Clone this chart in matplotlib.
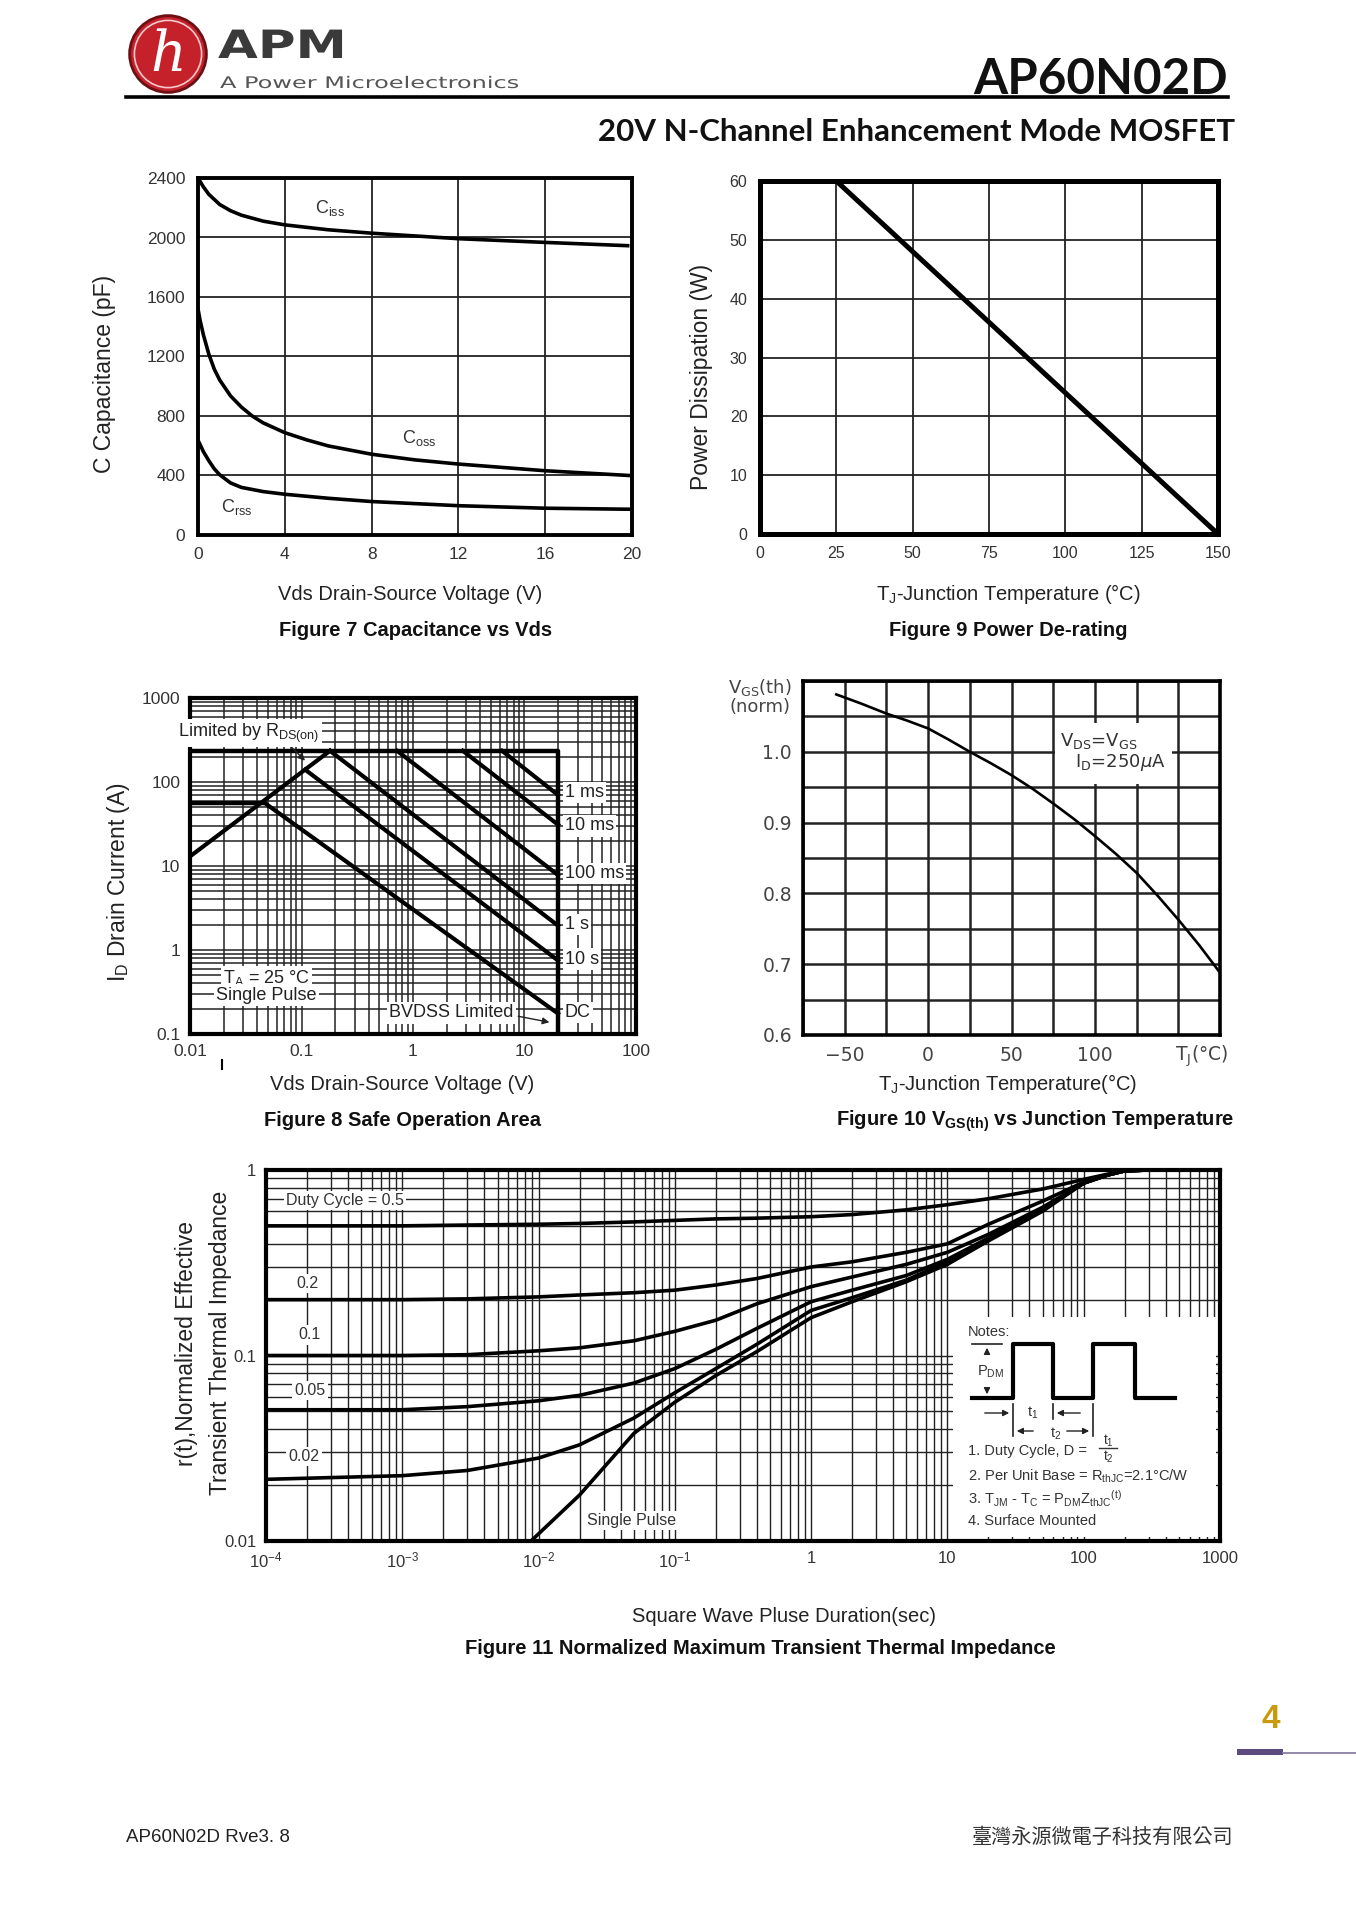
import numpy as np
import matplotlib
matplotlib.use('Agg')
import matplotlib.pyplot as plt
from matplotlib.patches import Circle, Rectangle, PathPatch, FancyArrowPatch
from matplotlib.lines import Line2D
from matplotlib.textpath import TextPath
from matplotlib.font_manager import FontProperties
from matplotlib.transforms import Affine2D
from matplotlib.ticker import LogLocator, NullFormatter

plt.rcParams['font.family'] = ['Liberation Sans', 'DejaVu Sans']

# ---- Figure 7: capacitance vs Vds ----
ciss_v = [0, 0.25, 0.5, 1, 1.5, 2, 3, 4, 6, 8, 12, 16, 19.8]
ciss = [2400, 2340, 2290, 2222, 2180, 2150, 2110, 2085, 2052, 2029, 1992, 1967, 1945]
coss_v = [0, 0.1, 0.25, 0.5, 0.75, 1, 1.5, 2, 2.5, 3, 4, 5, 6, 8, 10, 12, 16, 20]
coss = [1520, 1440, 1345, 1215, 1115, 1042, 935, 860, 800, 754, 688, 640, 599, 543, 505, 477, 432, 399]
crss_v = [0, 0.25, 0.5, 0.75, 1, 1.5, 2, 3, 4, 6, 8, 12, 16, 20]
crss = [637, 560, 499, 445, 405, 350, 320, 292, 274, 247, 225, 197, 180, 173]

# ---- Figure 9: power de-rating ----
pd_tj = [25, 150]
pd_w = [60, 0]

# ---- Figure 8: safe operating area ----
rds_v = [0.01, 0.18]
rds_i = [13, 235]
lim_v = [0.01, 20, 20]
lim_i = [235, 235, 0.1]
soa_lines = {
    '1 ms':   ([6.3, 20], [235, 70]),
    '10 ms':  ([2.8, 20], [235, 31]),
    '100 ms': ([0.72, 20], [235, 7.8]),
    '1 s':    ([0.18, 20], [235, 1.95]),
    '10 s':   ([0.108, 20], [140, 0.75]),
    'DC':     ([0.01, 0.047, 20], [56, 56, 0.175]),
}
soa_label_y = {'1 ms': 75, '10 ms': 30, '100 ms': 8.2, '1 s': 2.0, '10 s': 0.78, 'DC': 0.18}

# ---- Figure 10: VGS(th) vs Tj ----
vth_t = [-55, -40, -25, -12.5, 0, 12.5, 25, 37.5, 50, 62.5, 75, 87.5, 100, 112.5, 125, 137.5, 150, 162.5, 175]
vth_n = [1.081, 1.068, 1.054, 1.044, 1.033, 1.017, 1.0, 0.984, 0.967, 0.948, 0.927, 0.905, 0.881,
         0.856, 0.829, 0.797, 0.763, 0.727, 0.688]

# ---- Figure 11: transient thermal impedance ----
zt_t = [1e-4, 1e-3, 3e-3, 1e-2, 2e-2, 5e-2, 0.1, 0.2, 0.4, 1, 2, 5, 10, 20, 50, 100, 150, 200, 300]
zth = {
    '0.5':  [0.50, 0.50, 0.505, 0.51, 0.515, 0.525, 0.535, 0.545, 0.55, 0.56, 0.575, 0.61, 0.65,
             0.70, 0.79, 0.89, 0.95, 0.99, 1.0],
    '0.2':  [0.20, 0.20, 0.202, 0.207, 0.212, 0.218, 0.225, 0.24, 0.26, 0.30, 0.32, 0.36, 0.40,
             0.51, 0.68, 0.86, 0.94, 0.99, 1.0],
    '0.1':  [0.10, 0.10, 0.101, 0.106, 0.110, 0.120, 0.135, 0.155, 0.19, 0.235, 0.265, 0.31, 0.36,
             0.45, 0.63, 0.85, 0.94, 0.99, 1.0],
    '0.05': [0.051, 0.051, 0.053, 0.057, 0.061, 0.071, 0.085, 0.108, 0.14, 0.195, 0.225, 0.27, 0.33,
             0.43, 0.62, 0.85, 0.94, 0.99, 1.0],
    '0.02': [0.0215, 0.0225, 0.024, 0.028, 0.033, 0.046, 0.063, 0.085, 0.115, 0.175, 0.205, 0.255,
             0.32, 0.42, 0.61, 0.85, 0.94, 0.99, 1.0],
}
sp_t = [0.0088, 0.02, 0.05, 0.1, 0.2, 0.4, 1, 2, 5, 10, 20, 50, 100, 150, 200, 300]
sp_z = [0.01, 0.0177, 0.038, 0.056, 0.078, 0.105, 0.16, 0.195, 0.25, 0.31, 0.415, 0.60, 0.85,
        0.94, 0.99, 1.0]
zth_labels = [('Duty Cycle = 0.5', 1.4e-4, 0.685, 'left'), ('0.2', 2.0e-4, 0.245, 'center'),
              ('0.1', 2.1e-4, 0.129, 'center'), ('0.05', 2.1e-4, 0.065, 'center'),
              ('0.02', 1.9e-4, 0.0285, 'center'), ('Single Pulse', 0.048, 0.0129, 'center')]

W, H = 1356, 1920
fig = plt.figure(figsize=(W / 100, H / 100), dpi=100)
fig.patch.set_facecolor('white')


def rect(l, t, r, b):
    return [l / W, 1 - b / H, (r - l) / W, (b - t) / H]


def ftext(x, y, s, **kw):
    kw.setdefault('ha', 'center')
    kw.setdefault('va', 'center')
    return fig.text(x / W, 1 - y / H, s, **kw)


def fline(xs, ys, **kw):
    fig.add_artist(Line2D([x / W for x in xs], [1 - y / H for y in ys], **kw))


def farrow(x0, y0, x1, y1):
    fig.add_artist(FancyArrowPatch(
        (x0 / W, 1 - y0 / H), (x1 / W, 1 - y1 / H), transform=fig.transFigure,
        arrowstyle='-|>', mutation_scale=9, lw=1.0, color='#222'))


def frame(ax, lw):
    for s in ax.spines.values():
        s.set_linewidth(lw)
        s.set_color('black')
        s.set_zorder(5)


white_box = dict(facecolor='white', edgecolor='none', pad=1.5)

# ================= header =================
lax = fig.add_axes(rect(128, 14, 208, 94))
lax.set_xlim(-1, 1)
lax.set_ylim(-1, 1)
lax.set_aspect('equal')
lax.axis('off')
lax.add_patch(Circle((0, 0), 0.96, fc='#c4212b', ec='#6e0f14', lw=2))
lax.add_patch(Circle((0, 0), 0.84, fill=False, ec='#f3c9cb', lw=1.2))
lax.text(0, -0.05, 'h', color='white', fontsize=40, style='italic', family='DejaVu Serif',
         ha='center', va='center')

# page overlay in pixel units for stretched logo lettering
pax = fig.add_axes([0, 0, 1, 1])
pax.set_xlim(0, W)
pax.set_ylim(H, 0)
pax.axis('off')
pax.patch.set_alpha(0)
apm = TextPath((0, 0), 'APM', size=39, prop=FontProperties(family='DejaVu Sans', weight='bold'))
pax.add_patch(PathPatch(apm, transform=Affine2D().scale(1.32, -1).translate(218, 58) + pax.transData,
                        fc='#3a3a3a', ec='none'))
sub = TextPath((0, 0), 'A Power Microelectronics', size=16, prop=FontProperties(family='DejaVu Sans'))
pax.add_patch(PathPatch(sub, transform=Affine2D().scale(1.5, -1).translate(220, 88) + pax.transData,
                        fc='#555555', ec='none'))

fline([126, 1228], [97, 97], color='black', lw=2.6)
ftext(1228, 94, 'AP60N02D', ha='right', va='baseline', fontsize=35.5, fontweight='bold',
      family=['Lato', 'DejaVu Sans'], color='#111')
ftext(1235, 141, '20V N-Channel Enhancement Mode MOSFET', ha='right', va='baseline',
      fontsize=22.5, fontweight='bold', family=['Lato', 'DejaVu Sans'], color='#111')

# ================= Figure 7 =================
ax7 = fig.add_axes(rect(198, 178, 632, 535))
ax7.plot(ciss_v, ciss, color='black', lw=2.6)
ax7.plot(coss_v, coss, color='black', lw=2.6)
ax7.plot(crss_v, crss, color='black', lw=2.6)
ax7.set_xlim(0, 20)
ax7.set_ylim(0, 2400)
ax7.set_xticks(range(0, 21, 4))
ax7.set_yticks(range(0, 2401, 400))
ax7.grid(True, color='#222', lw=1.3)
ax7.tick_params(length=0, labelsize=12.5, pad=9, colors='#333')
frame(ax7, 2.8)
ax7.text(6.1, 2198, r'$\mathregular{C_{iss}}$', fontsize=13, ha='center', va='center', color='#333')
ax7.text(10.2, 650, r'$\mathregular{C_{oss}}$', fontsize=13, ha='center', va='center', color='#333')
ax7.text(1.8, 190, r'$\mathregular{C_{rss}}$', fontsize=13, ha='center', va='center', color='#333')
ftext(104, 374, 'C Capacitance (pF)', rotation=90, fontsize=16.5, color='#222')
ftext(410, 594, 'Vds Drain-Source Voltage (V)', fontsize=14.5, color='#222')
ftext(416, 631, 'Figure 7 Capacitance vs Vds', fontsize=14.5, fontweight='bold', color='#111')

# ================= Figure 9 =================
ax9 = fig.add_axes(rect(760, 181, 1218, 534))
ax9.plot(pd_tj, pd_w, color='black', lw=3.6)
ax9.set_xlim(0, 150)
ax9.set_ylim(0, 60)
ax9.set_xticks(range(0, 151, 25))
ax9.set_yticks(range(0, 61, 10))
ax9.grid(True, color='#222', lw=1.3)
ax9.tick_params(length=0, labelsize=11.5, pad=9, colors='#333')
frame(ax9, 3.6)
ftext(701, 377, 'Power Dissipation (W)', rotation=90, fontsize=16.5, color='#222')
ftext(1008, 594, r'T$\mathregular{_J}$-Junction Temperature (°C)', fontsize=14.5, color='#222')
ftext(1008, 631, 'Figure 9 Power De-rating', fontsize=14.5, fontweight='bold', color='#111')

# ================= Figure 8 =================
ax8 = fig.add_axes(rect(190, 698, 636, 1034))
ax8.set_xscale('log')
ax8.set_yscale('log')
ax8.set_xlim(0.01, 100)
ax8.set_ylim(0.1, 1000)
ax8.plot(rds_v, rds_i, color='black', lw=3)
ax8.plot(lim_v, lim_i, color='black', lw=3.2)
for name, (v, i) in soa_lines.items():
    ax8.plot(v, i, color='black', lw=3)
    ax8.text(23, soa_label_y[name], name, fontsize=13, ha='left', va='center', color='#222',
             bbox=white_box, zorder=6)
ax8.xaxis.set_major_locator(LogLocator(base=10, numticks=10))
ax8.xaxis.set_minor_locator(LogLocator(base=10, subs=np.arange(2, 10), numticks=10))
ax8.yaxis.set_major_locator(LogLocator(base=10, numticks=10))
ax8.yaxis.set_minor_locator(LogLocator(base=10, subs=np.arange(2, 10), numticks=10))
ax8.set_xticks([0.01, 0.1, 1, 10, 100], ['0.01', '0.1', '1', '10', '100'])
ax8.set_yticks([0.1, 1, 10, 100, 1000], ['0.1', '1', '10', '100', '1000'])
ax8.xaxis.set_minor_formatter(NullFormatter())
ax8.yaxis.set_minor_formatter(NullFormatter())
ax8.grid(True, which='both', color='#222', lw=1.1)
ax8.tick_params(which='both', length=0, labelsize=12.5, pad=7, colors='#333')
frame(ax8, 3)
ax8.text(0.0485, 0.46, r'T$\mathregular{_A}$ = 25 °C', fontsize=13, ha='center', va='center',
         color='#222', bbox=white_box, zorder=6)
ax8.text(0.0485, 0.29, 'Single Pulse', fontsize=13, ha='center', va='center',
         color='#222', bbox=white_box, zorder=6)
ax8.text(2.2, 0.178, 'BVDSS Limited', fontsize=13, ha='center', va='center',
         color='#222', bbox=white_box, zorder=6)
ax8.annotate('', xy=(17.7, 0.136), xytext=(8.3, 0.165),
             arrowprops=dict(arrowstyle='-|>', color='#222', lw=1.0, mutation_scale=10), zorder=6)
ax8.annotate('', xy=(0.112, 170), xytext=(0.078, 275),
             arrowprops=dict(arrowstyle='-|>', color='#222', lw=1.0, mutation_scale=10), zorder=6)
ftext(178, 733, r'Limited by $\mathregular{R_{DS(on)}}$', ha='left', fontsize=13, color='#222',
      bbox=dict(facecolor='white', edgecolor='none', pad=2))
fline([222, 222], [1060, 1069], color='black', lw=1.5)
ftext(119, 882, r'$\mathregular{I_D}$ Drain Current (A)', rotation=90, fontsize=16.5, color='#222')
ftext(402, 1084, 'Vds Drain-Source Voltage (V)', fontsize=14.5, color='#222')
ftext(402, 1121, 'Figure 8 Safe Operation Area', fontsize=14.5, fontweight='bold', color='#111')

# ================= Figure 10 =================
dj = ['DejaVu Sans']
ax10 = fig.add_axes(rect(803, 681, 1220, 1035))
ax10.plot(vth_t, vth_n, color='black', lw=1.9, zorder=4)
ax10.set_xlim(-75, 175)
ax10.set_ylim(0.6, 1.1)
xt = [-75, -50, -25, 0, 25, 50, 75, 100, 125, 150, 175]
xl = ['', '\u221250', '', '0', '', '50', '', '100', '', '', '']
yt = [0.6, 0.65, 0.7, 0.75, 0.8, 0.85, 0.9, 0.95, 1.0, 1.05, 1.1]
yl = ['0.6', '', '0.7', '', '0.8', '', '0.9', '', '1.0', '', '']
ax10.set_xticks(xt, xl)
ax10.set_yticks(yt, yl)
for lab in ax10.get_xticklabels() + ax10.get_yticklabels():
    lab.set_family(dj)
ax10.grid(True, color='#222', lw=1.8)
ax10.tick_params(length=0, labelsize=13.5, pad=8, colors='#444')
frame(ax10, 2.6)
ax10.add_patch(Rectangle((76, 0.955), 70, 0.085, fc='white', ec='none', zorder=3))
ax10.text(78.8, 1.015, r'$\mathregular{V_{DS}}$=$\mathregular{V_{GS}}$', fontsize=13,
          family=dj, ha='left', va='center', color='#333', zorder=4)
ax10.text(88, 0.985, r'$\mathregular{I_D}$=250$\mu$A', fontsize=13,
          family=dj, ha='left', va='center', color='#333', zorder=4)
ax10.text(164, -0.06, r'T$\mathregular{_J}$(°C)', transform=ax10.get_xaxis_transform(),
          fontsize=13.5, family=dj, ha='center', va='center', color='#444')
ftext(760, 688, r'V$\mathregular{_{GS}}$(th)', fontsize=13, family=dj, color='#444')
ftext(760, 707, '(norm)', fontsize=13, family=dj, color='#444')
ftext(1008, 1084, r'T$\mathregular{_J}$-Junction Temperature(°C)', fontsize=14.5, color='#222')
ftext(1035, 1121, r'Figure 10 V$\mathregular{_{GS(th)}}$ vs Junction Temperature', fontsize=14.5,
      fontweight='bold', color='#111')

# ================= Figure 11 =================
ax11 = fig.add_axes(rect(266, 1170, 1220, 1541))
ax11.set_xscale('log')
ax11.set_yscale('log')
ax11.set_xlim(1e-4, 1000)
ax11.set_ylim(0.01, 1)
for d, z in zth.items():
    ax11.plot(zt_t, z, color='black', lw=2.6, zorder=4)
ax11.plot(sp_t, sp_z, color='black', lw=2.6, zorder=4)
ax11.xaxis.set_major_locator(LogLocator(base=10, numticks=12))
ax11.xaxis.set_minor_locator(LogLocator(base=10, subs=np.arange(2, 10), numticks=12))
ax11.yaxis.set_minor_locator(LogLocator(base=10, subs=np.arange(2, 10), numticks=12))
xticks11 = [1e-4, 1e-3, 1e-2, 1e-1, 1, 10, 100, 1000]
xlabels11 = [r'$\mathregular{10^{-4}}$', r'$\mathregular{10^{-3}}$', r'$\mathregular{10^{-2}}$',
             r'$\mathregular{10^{-1}}$', '1', '10', '100', '1000']
ax11.set_xticks(xticks11, xlabels11)
ax11.set_yticks([0.01, 0.1, 1], ['0.01', '0.1', '1'])
ax11.xaxis.set_minor_formatter(NullFormatter())
ax11.yaxis.set_minor_formatter(NullFormatter())
ax11.grid(True, which='both', color='#222', lw=1.0)
ax11.tick_params(which='both', length=0, labelsize=12, pad=7, colors='#333')
frame(ax11, 3)
for txt, tx, ty, ha in zth_labels:
    ax11.text(tx, ty, txt, fontsize=11.5, ha=ha, va='center', color='#333',
              bbox=white_box, zorder=5)
ax11.add_patch(Rectangle((0.72, 0.012), 0.276, 0.592, transform=ax11.transAxes,
                         fc='white', ec='none', zorder=3))

# notes block
nk = dict(fontsize=10.5, color='#333', ha='left', zorder=6)
ftext(968, 1332, 'Notes:', **nk)
fline([972, 1013, 1013, 1053, 1053, 1093, 1093, 1135, 1135, 1175],
      [1398, 1398, 1344, 1344, 1398, 1398, 1344, 1344, 1398, 1398], color='black', lw=3)
fline([972, 1002], [1344, 1344], color='#222', lw=1.2)
farrow(987, 1356, 987, 1345)
farrow(987, 1386, 987, 1397)
ftext(977, 1372, r'$\mathregular{P_{DM}}$', **nk)
fline([1013, 1013], [1404, 1436], color='#222', lw=1.2)
fline([1053, 1053], [1404, 1419], color='#222', lw=1.2)
fline([1093, 1093], [1404, 1436], color='#222', lw=1.2)
farrow(982, 1413, 1012, 1413)
farrow(1083, 1413, 1054, 1413)
farrow(1036, 1431, 1014, 1431)
farrow(1064, 1431, 1092, 1431)
ftext(1033, 1413, r'$\mathregular{t_1}$', fontsize=10.5, color='#333', zorder=6)
ftext(1056, 1434, r'$\mathregular{t_2}$', fontsize=10.5, color='#333', zorder=6)
ftext(968, 1451, '1. Duty Cycle, D =', **nk)
ftext(1108, 1441, r'$\mathregular{t_1}$', fontsize=10, color='#333')
fline([1099, 1117], [1448, 1448], color='#333', lw=1)
ftext(1108, 1457, r'$\mathregular{t_2}$', fontsize=10, color='#333')
ftext(968, 1476, r'2. Per Unit Base = $\mathregular{R_{thJC}}$=2.1°C/W', **nk)
ftext(968, 1499, r'3. $\mathregular{T_{JM}}$ - $\mathregular{T_C}$ = $\mathregular{P_{DM}Z_{thJC}{}^{(t)}}$', **nk)
ftext(968, 1521, '4. Surface Mounted', **nk)

ftext(186, 1343, 'r(t),Normalized Effective', rotation=90, fontsize=16.5, color='#222')
ftext(220, 1343, 'Transient Thermal Impedance', rotation=90, fontsize=16.5, color='#222')
ftext(784, 1617, 'Square Wave Pluse Duration(sec)', fontsize=14.5, color='#222')
ftext(760, 1648, 'Figure 11 Normalized Maximum Transient Thermal Impedance', fontsize=14.5,
      fontweight='bold', color='#111')

# ================= footer =================
ftext(1271, 1719, '4', fontsize=24, fontweight='bold', color='#c99a0c')
fig.add_artist(Rectangle((1237 / W, 1 - 1755 / H), 46 / W, 6 / H, transform=fig.transFigure,
                         fc='#5b4a80', ec='none'))
fline([1283, 1356], [1753, 1753], color='#8a7fa3', lw=1.3)
ftext(126, 1837, 'AP60N02D Rve3. 8', ha='left', fontsize=13.5, color='#222')
ftext(1233, 1837, '臺灣永源微電子科技有限公司', ha='right', fontsize=14.5,
      family=['Noto Sans CJK TC', 'DejaVu Sans'], color='#333')

fig.savefig('out.png', dpi=100, facecolor='white')
